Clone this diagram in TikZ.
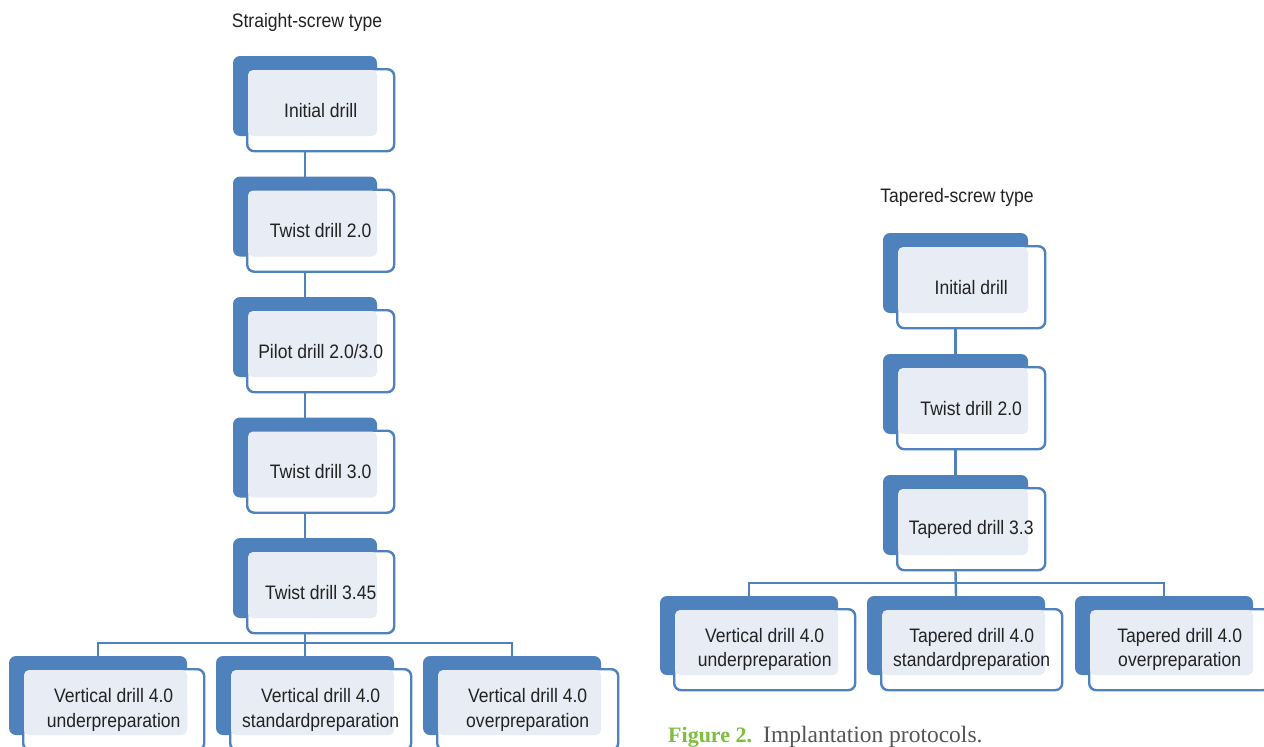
\documentclass[tikz,border=0pt]{standalone}
\usepackage{fontspec}
\setmainfont{Liberation Sans}[FakeStretch=0.9]
\newfontfamily\capfont{Liberation Serif}
\definecolor{bblue}{HTML}{4F81BD}
\definecolor{lightfill}{HTML}{E8ECF4}
\definecolor{txt}{HTML}{222222}
\definecolor{figgreen}{HTML}{7DBE3C}
\definecolor{capgray}{HTML}{555555}
\tikzset{
  backbox/.style={fill=bblue, rounded corners=7pt, inner sep=0pt, outer sep=0pt, anchor=north west},
  frontbox/.style={draw=bblue, line width=2.4pt, fill=white, rounded corners=7pt, inner sep=0pt, anchor=north west},
  lbl/.style={text=txt, align=center, inner sep=0pt, font=\fontsize{19.5}{24.5}\selectfont},
  conn/.style={draw=bblue, line width=2.4pt},
}
% #1 name, #2 x, #3 y (back top-left), #4 back w, #5 back h, #6 text
\newcommand\drillbox[6]{%
  \node[backbox, minimum width=#4, minimum height=#5] (#1b) at (#2,#3) {};
  \node[frontbox, minimum width={#4+3}, minimum height={#5+2}] (#1f) at ({#2+13},{#3+12}) {};
  \fill[lightfill, rounded corners=5pt] ([shift={(2pt,-2pt)}]#1f.north west) rectangle (#1b.south east);
  \node[lbl] (#1t) at (#1f.center) {#6};
}
\begin{document}
\begin{tikzpicture}[x=1pt, y=-1pt]
\useasboundingbox (0,0) rectangle (1264,747);
\fill[white] (0,0) rectangle (1264,747);

% titles
\node[lbl] (stitle) at (307,22) {Straight-screw type};
\node[lbl] (ttitle) at (957,197) {Tapered-screw type};

% left column
\drillbox{s1}{233}{56}{144}{80}{Initial drill}
\drillbox{s2}{233}{176.5}{144}{80}{Twist drill 2.0}
\drillbox{s3}{233}{297}{144}{80}{Pilot drill 2.0/3.0}
\drillbox{s4}{233}{417.5}{144}{80}{Twist drill 3.0}
\drillbox{s5}{233}{538}{144}{80}{Twist drill 3.45}
\drillbox{l1}{9}{656}{178}{79}{Vertical drill 4.0\\underpreparation}
\drillbox{l2}{216}{656}{178}{79}{Vertical drill 4.0\\standardpreparation}
\drillbox{l3}{423}{656}{178}{79}{Vertical drill 4.0\\overpreparation}

\draw[conn] (s1b.south |- s1f.south) -- (s2b.north);
\draw[conn] (s2b.south |- s2f.south) -- (s3b.north);
\draw[conn] (s3b.south |- s3f.south) -- (s4b.north);
\draw[conn] (s4b.south |- s4f.south) -- (s5b.north);
\coordinate (lbar) at (0,643);
\draw[conn] (s5b.south |- s5f.south) -- (l2b.north);
\draw[conn] (l1b.north) -- (l1b.north |- lbar) -- (l3b.north |- lbar) -- (l3b.north);

% right column
\drillbox{t1}{883}{233}{145}{80}{Initial drill}
\drillbox{t2}{883}{354}{145}{80}{Twist drill 2.0}
\drillbox{t3}{883}{475}{145}{80}{Tapered drill 3.3}
\drillbox{r1}{660}{596}{178}{79}{Vertical drill 4.0\\underpreparation}
\drillbox{r2}{867}{596}{178}{79}{Tapered drill 4.0\\standardpreparation}
\drillbox{r3}{1075}{596}{178}{79}{Tapered drill 4.0\\overpreparation}

\draw[conn] (t1b.south |- t1f.south) -- (t2b.north);
\draw[conn] (t2b.south |- t2f.south) -- (t3b.north);
\coordinate (rbar) at (0,583);
\draw[conn] (t3b.south |- t3f.south) -- (r2b.north);
\draw[conn] (r1b.north) -- (r1b.north |- rbar) -- (r3b.north |- rbar) -- (r3b.north);

% caption
\node[anchor=base west, inner sep=0pt, text=figgreen, font=\capfont\bfseries\fontsize{22}{24}\selectfont] (cap1) at (668,742) {Figure 2.};
\node[anchor=base west, inner sep=0pt, text=capgray, font=\capfont\fontsize{23.5}{26}\selectfont] (cap2) at (763,742) {Implantation protocols.};
\end{tikzpicture}
\end{document}
